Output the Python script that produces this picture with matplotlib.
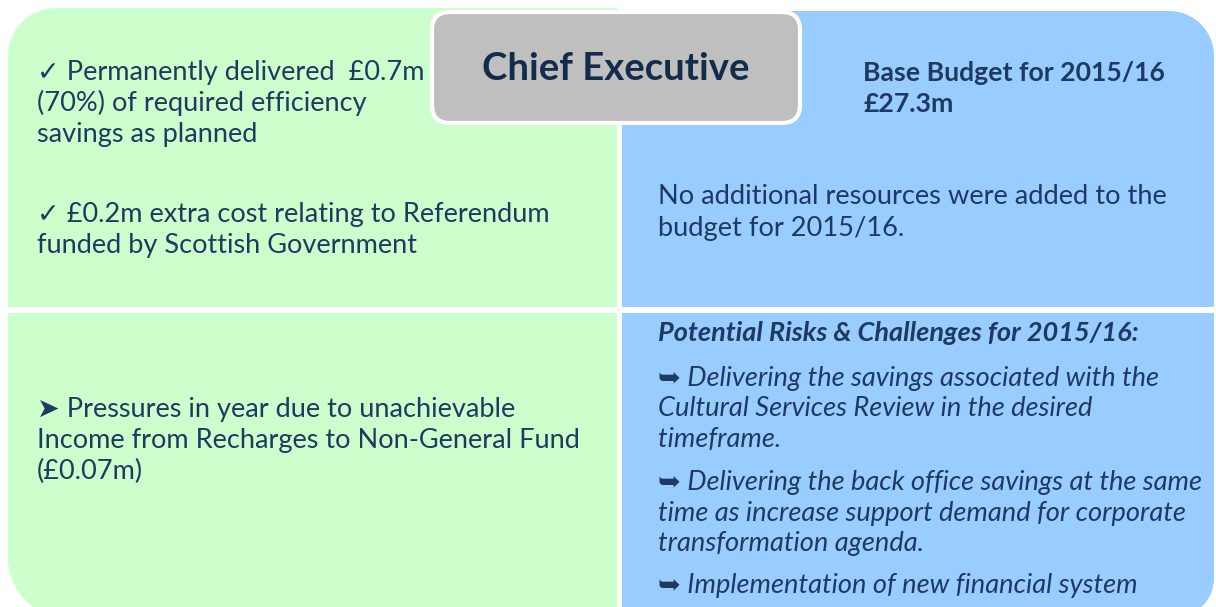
import matplotlib
matplotlib.use("Agg")
import matplotlib.pyplot as plt
from matplotlib.path import Path
import matplotlib.patches as mpatches

plt.rcParams["font.family"] = ["Lato", "DejaVu Sans"]

# ---- text content ----
title = "Chief Executive"
delivered_lines = ["\u2713 Permanently delivered  \u00a30.7m",
                   "(70%) of required efficiency",
                   "savings as planned"]
referendum_lines = ["\u2713 \u00a30.2m extra cost relating to Referendum",
                    "funded by Scottish Government"]
pressure_lines = ["\u27a4 Pressures in year due to unachievable",
                  "Income from Recharges to Non-General Fund",
                  "(\u00a30.07m)"]
budget_lines = ["Base Budget for 2015/16", "\u00a327.3m"]
resources_lines = ["No additional resources were added to the",
                   "budget for 2015/16."]
risks_heading = "Potential Risks & Challenges for 2015/16:"
risk_items = [["\u27a5 Delivering the savings associated with the",
               "Cultural Services Review in the desired",
               "timeframe."],
              ["\u27a5 Delivering the back office savings at the same",
               "time as increase support demand for corporate",
               "transformation agenda."],
              ["\u27a5 Implementation of new financial system"]]

GREEN = "#ccffcc"
BLUE = "#99ccff"
GREY = "#bfbfbf"
NAVY = "#1f3a60"
W, H = 1216, 607


def rounded_path(x0, y0, x1, y1, tl=0, tr=0, br=0, bl=0):
    # y grows downwards (axis is inverted)
    k = 0.5523
    v = [(x0 + tl, y0)]
    c = [Path.MOVETO]
    v.append((x1 - tr, y0)); c.append(Path.LINETO)
    if tr:
        v += [(x1 - tr + k * tr, y0), (x1, y0 + tr - k * tr), (x1, y0 + tr)]
        c += [Path.CURVE4] * 3
    v.append((x1, y1 - br)); c.append(Path.LINETO)
    if br:
        v += [(x1, y1 - br + k * br), (x1 - br + k * br, y1), (x1 - br, y1)]
        c += [Path.CURVE4] * 3
    v.append((x0 + bl, y1)); c.append(Path.LINETO)
    if bl:
        v += [(x0 + bl - k * bl, y1), (x0, y1 - bl + k * bl), (x0, y1 - bl)]
        c += [Path.CURVE4] * 3
    v.append((x0, y0 + tl)); c.append(Path.LINETO)
    if tl:
        v += [(x0, y0 + tl - k * tl), (x0 + tl - k * tl, y0), (x0 + tl, y0)]
        c += [Path.CURVE4] * 3
    v.append((x0 + tl, y0)); c.append(Path.CLOSEPOLY)
    return Path(v, c)


fig = plt.figure(figsize=(W / 100, H / 100), dpi=100)
ax = fig.add_axes([0, 0, 1, 1])
ax.set_xlim(0, W)
ax.set_ylim(H, 0)
ax.axis("off")

# panels
ax.add_patch(mpatches.PathPatch(rounded_path(8, 8, 617, 618, tl=48, bl=60),
                                facecolor=GREEN, edgecolor="none"))
ax.add_patch(mpatches.PathPatch(rounded_path(622, 11, 1214, 618, tr=45, br=40),
                                facecolor=BLUE, edgecolor="none"))
# white gap between top and bottom rows
ax.add_patch(mpatches.Rectangle((0, 307), W, 6, facecolor="white", edgecolor="none"))

# title box
ax.add_patch(mpatches.FancyBboxPatch((446, 26), 340, 83,
                                     boxstyle="round,pad=14,rounding_size=18",
                                     facecolor=GREY, edgecolor="white", linewidth=3))
ax.text(616, 80, title, ha="center", va="baseline", fontsize=27.5,
        fontweight="bold", color="#142c4c")


def block(lines, x, y, pitch, **kw):
    for i, s in enumerate(lines):
        ax.text(x, y + i * pitch, s, ha="left", va="baseline", color=NAVY, **kw)


block(delivered_lines, 37, 80, 31, fontsize=19.5)
block(referendum_lines, 37, 222, 31, fontsize=19.5)
block(pressure_lines, 37, 417, 31, fontsize=19.5)
block(budget_lines, 863, 81, 31, fontsize=19.2, fontweight="bold")
block(resources_lines, 658, 204, 32, fontsize=19.6)

ax.text(658, 341, risks_heading, ha="left", va="baseline", color=NAVY,
        fontsize=19.5, fontweight="bold", style="italic")
starts = [386, 490, 593]
for y0, item in zip(starts, risk_items):
    block(item, 658, y0, 30.5, fontsize=19.6, style="italic")

fig.savefig("out.png", dpi=100, facecolor="white")
